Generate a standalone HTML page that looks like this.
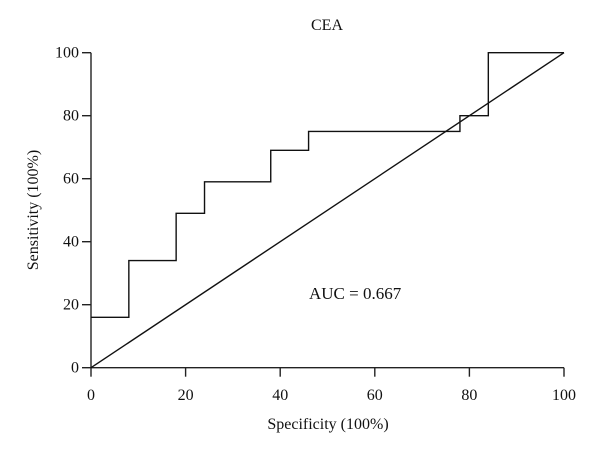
<!DOCTYPE html>
<html><head><meta charset="utf-8"><style>
body{margin:0;background:#fff}
svg{display:block}
text{font-family:"Liberation Serif",serif;font-size:16px;fill:#111}
</style></head><body>
<svg width="600" height="454">
<g id="axes"></g>
<g id="marks"></g>
<text x="327" y="30" text-anchor="middle">CEA</text>
<text x="309" y="299" style="font-size:17px">AUC = 0.667</text>
<text x="328" y="429" text-anchor="middle">Specificity (100%)</text>
<text x="38" y="210" text-anchor="middle" transform="rotate(-90 38 210)">Sensitivity (100%)</text>
</svg>
<script>
const xTicks=[0,20,40,60,80,100];
const yTicks=[0,20,40,60,80,100];
const rocX=[0,8,8,18,18,24,24,38,38,46,46,78,78,84,84,100];
const rocY=[16,16,34,34,49,49,59,59,69,69,75,75,80,80,100,100];
const diagX=[0,100];
const diagY=[0,100];
const X=v=>91+v*4.73, Y=v=>367.7-v*3.15;
const NS="http://www.w3.org/2000/svg";
const ax=document.getElementById('axes'), mk=document.getElementById('marks');
function mkEl(t,a,p){const e=document.createElementNS(NS,t);for(const k in a)e.setAttribute(k,a[k]);p.appendChild(e);return e;}
let e=mkEl('line',{x1:X(0),y1:Y(0),x2:X(100),y2:Y(0),stroke:'#222','stroke-width':1.4},ax);


e=mkEl('line',{x1:X(0),y1:Y(0),x2:X(0),y2:Y(100),stroke:'#222','stroke-width':1.4},ax);


xTicks.forEach(t=>{
 let l=mkEl('line',{x1:X(t),y1:Y(0),x2:X(t),y2:Y(0)+9,stroke:'#222','stroke-width':1.4},ax);
 
 
 let tx=mkEl('text',{x:X(t),y:400,'text-anchor':'middle'},ax);tx.textContent=t;
 
 
});
yTicks.forEach(t=>{
 let l=mkEl('line',{x1:X(0)-9,y1:Y(t),x2:X(0),y2:Y(t),stroke:'#222','stroke-width':1.4},ax);
 
 
 let tx=mkEl('text',{x:79,y:Y(t)+5,'text-anchor':'end'},ax);tx.textContent=t;
 
 
});
let p=mkEl('polyline',{points:rocX.map((v,i)=>X(v)+','+Y(rocY[i])).join(' '),fill:'none',stroke:'#111','stroke-width':1.4},mk);


let d=mkEl('polyline',{points:diagX.map((v,i)=>X(v)+','+Y(diagY[i])).join(' '),fill:'none',stroke:'#111','stroke-width':1.4},mk);


</script>
</body></html>
